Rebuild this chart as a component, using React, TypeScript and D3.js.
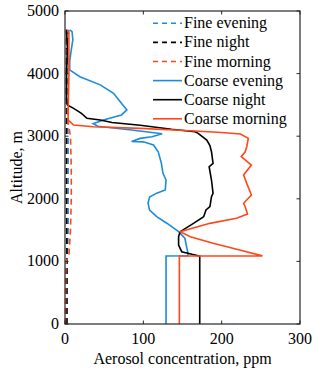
import React from 'react';
import * as d3 from 'd3';

// altitude (m), concentration (ppm) pairs
const coarseEvening: [number, number][] = [
  [0, 129], [1086, 129], [1090, 157], [1130, 157], [1370, 153], [1475, 145], [1610, 130],
  [1715, 117], [1820, 108], [1930, 106], [2030, 108], [2090, 117], [2140, 128], [2300, 129],
  [2410, 125], [2570, 123], [2750, 119], [2860, 113], [2910, 100], [2915, 85], [2965, 96],
  [2990, 111], [3040, 124], [3100, 85], [3160, 42], [3200, 36], [3258, 49], [3340, 72],
  [3420, 79], [3525, 72], [3685, 62], [3820, 45], [3950, 19], [4060, 6], [4200, 6],
  [4380, 8], [4540, 10], [4670, 9], [4700, 6],
];
const coarseNight: [number, number][] = [
  [0, 172], [1086, 172], [1090, 170], [1113, 162], [1155, 149], [1262, 145], [1395, 145],
  [1475, 147], [1608, 164], [1714, 177], [1821, 180], [1874, 185], [2033, 187], [2087, 189],
  [2300, 187], [2512, 184], [2566, 189], [2752, 187], [2850, 185], [2939, 181], [3045, 170],
  [3071, 166], [3110, 136], [3175, 96], [3220, 60], [3258, 45], [3285, 28], [3365, 21],
  [3444, 11], [3498, 3], [3600, 2], [4000, 2], [4400, 3], [4700, 2],
];
const coarseMorning: [number, number][] = [
  [0, 146], [1086, 146], [1088, 252], [1182, 223], [1289, 189], [1395, 160], [1475, 147],
  [1608, 185], [1688, 219], [1757, 233], [1874, 230], [1928, 228], [2060, 238], [2247, 232],
  [2380, 228], [2539, 238], [2672, 225], [2750, 230], [2832, 232], [2966, 234], [3034, 224],
  [3060, 200], [3087, 160], [3125, 96], [3151, 36], [3178, 11], [3258, 4], [3400, 4],
  [4000, 5], [4400, 5], [4650, 5], [4700, 3],
];
const fineEvening: [number, number][] = [
  [0, 2], [500, 2], [1000, 2], [1100, 3], [1500, 4], [2000, 4], [2500, 4], [3000, 4],
  [3200, 3], [3500, 2], [4000, 2], [4500, 3], [4700, 5],
];
const fineNight: [number, number][] = [
  [0, 2.5], [1000, 2.5], [2000, 2], [3000, 2], [4000, 2], [4700, 2],
];
const fineMorning: [number, number][] = [
  [0, 0.5], [800, 1], [1000, 1.5], [1100, 5], [1500, 7], [2000, 8], [2500, 8], [3000, 7],
  [3200, 4], [3500, 3], [4000, 2], [4700, 2],
];

const xTicks = [0, 100, 200, 300];
const yTicks = [0, 1000, 2000, 3000, 4000, 5000];

const BLUE = '#1a8ce0';
const BLACK = '#000000';
const RED = '#ff4719';

const series = [
  { name: 'Fine evening', data: fineEvening, color: BLUE, dashed: true },
  { name: 'Fine night', data: fineNight, color: BLACK, dashed: true },
  { name: 'Fine morning', data: fineMorning, color: RED, dashed: true },
  { name: 'Coarse evening', data: coarseEvening, color: BLUE, dashed: false },
  { name: 'Coarse night', data: coarseNight, color: BLACK, dashed: false },
  { name: 'Coarse morning', data: coarseMorning, color: RED, dashed: false },
];

export default function App() {
  const W = 320, H = 374;
  const left = 65, right = 300, top = 11, bottom = 324;
  const x = d3.scaleLinear().domain([0, 300]).range([left, right]);
  const y = d3.scaleLinear().domain([0, 5000]).range([bottom, top]);
  const line = d3.line<[number, number]>().x(d => x(d[1])).y(d => y(d[0]));
  const txt = { fontFamily: "'Liberation Serif', 'DejaVu Serif', serif", fontSize: 16 };
  const tick = 3.5;

  return (
    <svg width={W} height={H} style={{ position: 'absolute', left: 0, top: 0 }}>
      <rect x={0} y={0} width={W} height={H} fill="#fff" />
      {series.map(s => (
        <path key={s.name} d={line(s.data) || ''} fill="none" stroke={s.color}
          strokeWidth={1.6} strokeDasharray={s.dashed ? '6 4' : undefined} />
      ))}
      {/* box */}
      <rect x={left} y={top} width={right - left} height={bottom - top} fill="none" stroke="#262626" strokeWidth={1.2} />
      {xTicks.map(t => (
        <g key={'x' + t}>
          <line x1={x(t)} x2={x(t)} y1={bottom} y2={bottom - tick} stroke="#262626" />
          <line x1={x(t)} x2={x(t)} y1={top} y2={top + tick} stroke="#262626" />
          <text x={x(t)} y={344} textAnchor="middle" style={txt} fill="#000">{t}</text>
        </g>
      ))}
      {yTicks.map(t => (
        <g key={'y' + t}>
          <line x1={left} x2={left + tick} y1={y(t)} y2={y(t)} stroke="#262626" />
          <line x1={right} x2={right - tick} y1={y(t)} y2={y(t)} stroke="#262626" />
          <text x={59} y={y(t) + 5} textAnchor="end" style={txt} fill="#000">{t}</text>
        </g>
      ))}
      <text x={(left + right) / 2} y={364} textAnchor="middle" style={txt} fill="#000">Aerosol concentration, ppm</text>
      <text transform={`translate(22,${(top + bottom) / 2}) rotate(-90)`} textAnchor="middle" style={txt} fill="#000">Altitude, m</text>
      {/* legend */}
      {series.map((s, i) => {
        const ly = 23.3 + i * 19.1;
        return (
          <g key={'l' + s.name}>
            <line x1={153} x2={182} y1={ly} y2={ly} stroke={s.color} strokeWidth={1.6}
              strokeDasharray={s.dashed ? '5 4' : undefined} />
            <text x={184} y={ly + 5} style={txt} fill="#000">{s.name}</text>
          </g>
        );
      })}
    </svg>
  );
}
